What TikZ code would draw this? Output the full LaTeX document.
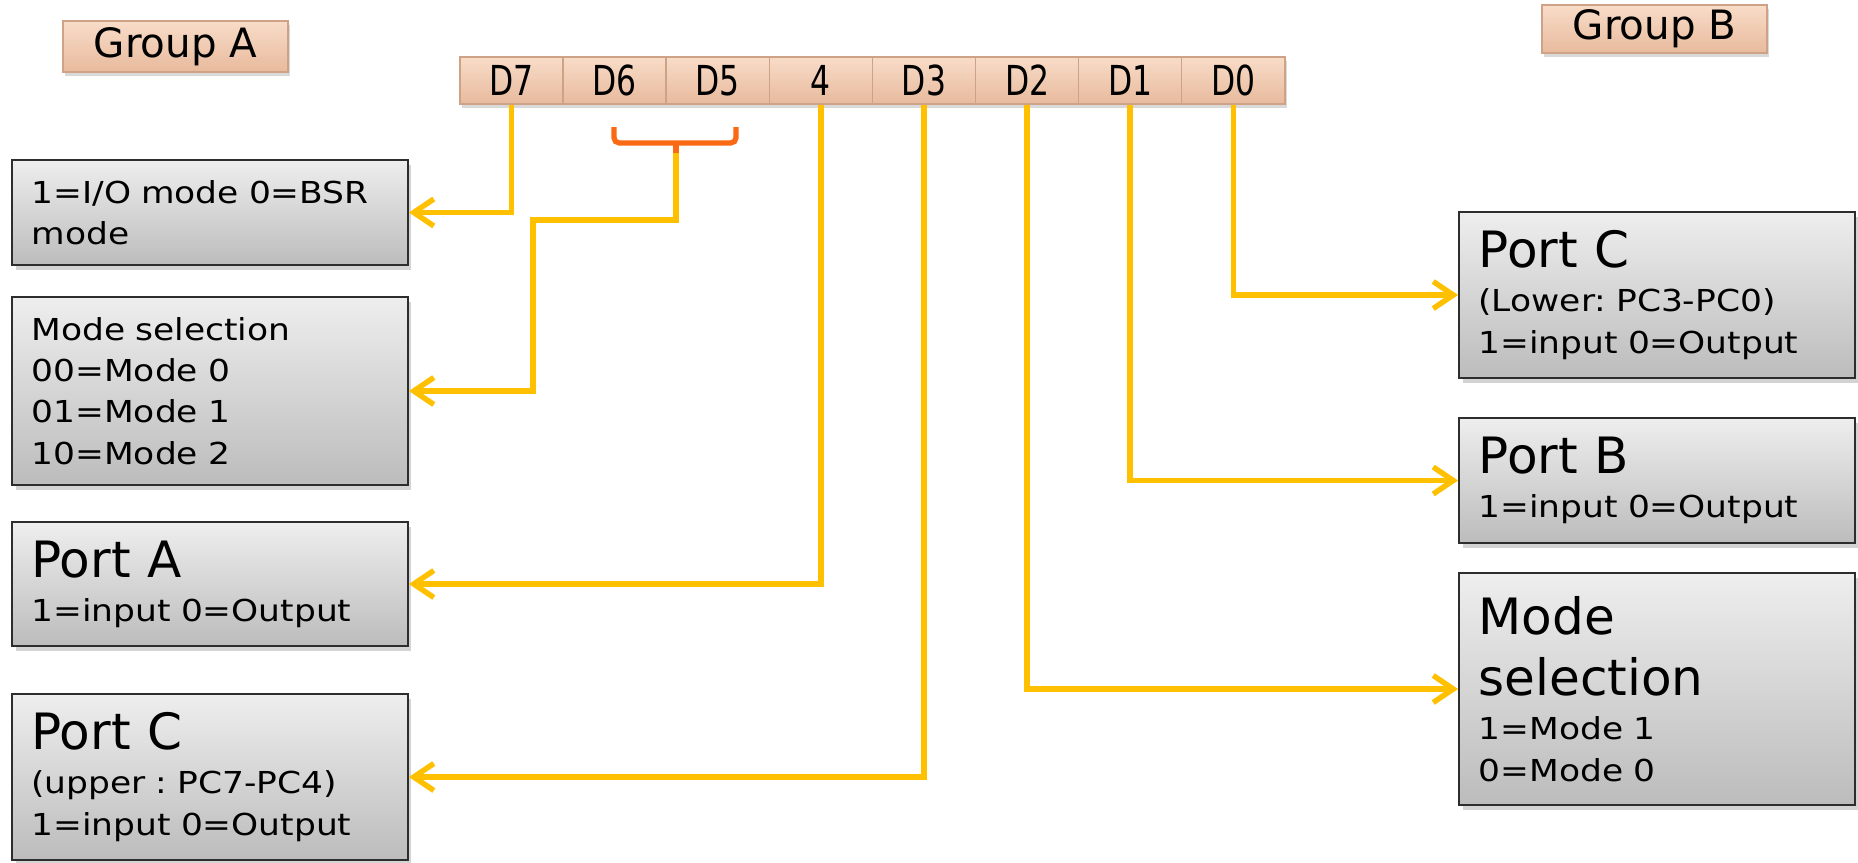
\documentclass[tikz,border=0pt]{standalone}
\usepackage{fontspec}
\setmainfont{DejaVu Sans}
\newfontfamily\boxfont[FakeStretch=1.14]{DejaVu Sans}
\newfontfamily\regfont[FakeStretch=0.76]{DejaVu Sans}
\usetikzlibrary{arrows.meta,shadows}
\definecolor{peachT}{RGB}{248,220,200}
\definecolor{peachB}{RGB}{232,186,157}
\definecolor{peachD}{RGB}{205,162,135}
\definecolor{grayT}{RGB}{238,238,238}
\definecolor{grayB}{RGB}{188,188,188}
\definecolor{boxline}{RGB}{45,45,45}
\definecolor{wireY}{RGB}{255,192,0}
\definecolor{braceO}{RGB}{250,105,20}
\newcommand\mysmall{\boxfont\fontsize{17.2}{23.5}\selectfont}
\newcommand\mybig{\normalfont\fontsize{28.5}{34}\selectfont}
\newcommand\bsp{\hspace*{0.34em}}
\frenchspacing
\begin{document}
\begin{tikzpicture}[x=0.02cm,y=-0.02cm,
  peachbox/.style={draw=peachD, line width=0.8pt, top color=peachT, bottom color=peachB, inner sep=0pt,
    drop shadow={shadow xshift=1.2pt,shadow yshift=-2pt,opacity=0.3}},
  bitcell/.style={peachbox, minimum width=2.062cm, minimum height=0.94cm, font=\regfont\fontsize{23.5}{26}\selectfont},
  grouplabel/.style={peachbox, minimum width=4.5cm, font=\fontsize{23}{27}\selectfont},
  infobox/.style={draw=boxline, line width=1.1pt, top color=grayT, bottom color=grayB,
    drop shadow={shadow xshift=2pt,shadow yshift=-3pt,opacity=0.35},
    text width=7.14cm, inner xsep=0.39cm, inner ysep=0pt, align=left, font=\mysmall},
  link/.style={draw=wireY, line width=3.1pt, -{Straight Barb[length=0.4cm,width=0.54cm]}},
  bracketline/.style={draw=braceO, line width=3pt}]
\useasboundingbox (0,0) rectangle (1858,862);

% group labels
\node[grouplabel, minimum height=1.02cm] (ga) at (175.5,46.5) {Group A};
\node[grouplabel, minimum height=0.96cm] (gb) at (1654.5,29) {Group B};

% register cells
\foreach \lab [count=\i from 0] in {D7,D6,D5,4,D3,D2,D1,D0}
  \node[bitcell] (c\lab) at ({460+103.1*(\i+0.5)},80.5) {\lab};

% left boxes
\node[infobox, minimum height=2.1cm] (b1) at (210,212.5) {1=I/O~mode~0=BSR\\mode};
\node[infobox, minimum height=3.76cm] (b2) at (210,391) {Mode selection\\00=Mode 0\\01=Mode 1\\10=Mode 2};
\node[infobox, minimum height=2.48cm] (b3) at (210,584) {{\mybig Port\bsp A}\\[1.5pt]1=input 0=Output};
\node[infobox, minimum height=3.32cm] (b4) at (210,777) {{\mybig Port\bsp C}\\[1.5pt](upper : PC7-PC4)\\1=input 0=Output};

% right boxes
\node[infobox, minimum height=3.32cm] (rc) at (1657,295) {{\mybig Port\bsp C}\\[1.5pt](Lower: PC3-PC0)\\1=input 0=Output};
\node[infobox, minimum height=2.5cm] (rb) at (1657,480.5) {{\mybig Port\bsp B}\\[1.5pt]1=input 0=Output};
\node[infobox, minimum height=4.64cm] (rm) at (1657,689) {{\mybig Mode}\\[11.5pt]{\mybig selection}\\[1.5pt]1=Mode 1\\0=Mode 0};

% bracket under D6 D5
\draw[bracketline, rounded corners=3pt] (614,127) -- (614,143) -- (736,143) -- (736,127);
\coordinate (brk) at (676,141);
\coordinate (brkend) at (676,153);
\draw[bracketline] (brk) -- (brkend);
\coordinate (j1) at (533,220);

% connectors
\draw[link] (cD7.south) |- (b1.east);
\draw[link] (brkend) |- (j1) |- (b2.east);
\draw[link] (c4.south) |- (b3.east);
\draw[link] (cD3.south) |- (b4.east);
\draw[link] (cD2.south) |- (rm.west);
\draw[link] (cD1.south) |- (rb.west);
\draw[link] (cD0.south) |- (rc.west);
\end{tikzpicture}
\end{document}
